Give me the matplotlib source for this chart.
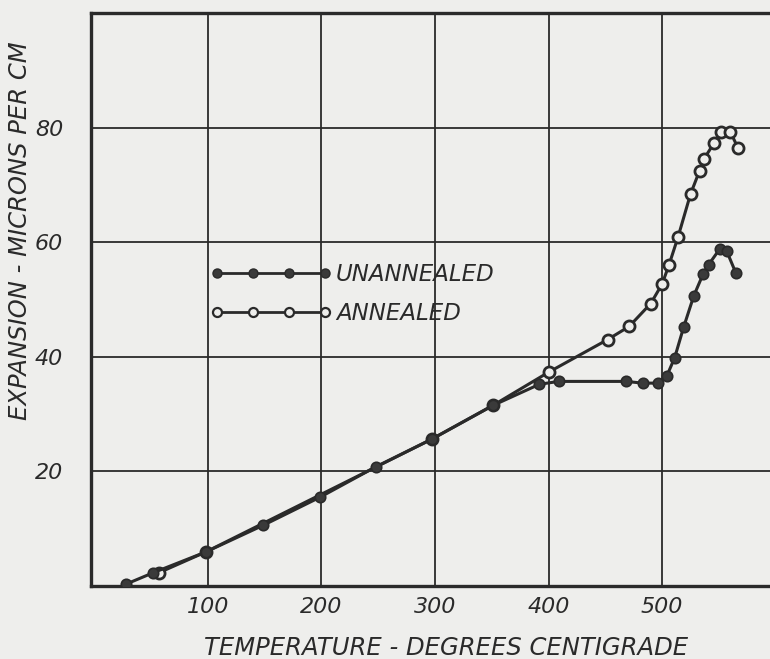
import numpy as np
import matplotlib.pyplot as plt
from matplotlib.lines import Line2D

# -------- DATA --------
unannealed_t = [28, 52, 98, 149, 199, 248, 297, 351, 392, 409, 468, 483, 496,
                504, 511, 519, 528, 536, 541, 551, 557, 565]
unannealed_e = [0.3, 2.3, 5.9, 10.6, 15.5, 20.8, 25.6, 31.5, 35.2, 35.7, 35.7,
                35.4, 35.4, 36.6, 39.8, 45.2, 50.7, 54.4, 56.1, 58.9, 58.4, 54.6]

annealed_t = [57, 98, 297, 351, 400, 452, 471, 490, 500, 506, 514, 525, 533,
              537, 546, 552, 560, 567]
annealed_e = [2.3, 5.9, 25.6, 31.5, 37.3, 43.0, 45.3, 49.3, 52.7, 56.0, 60.9,
              68.4, 72.5, 74.6, 77.4, 79.3, 79.3, 76.4]

x_ticks = [100, 200, 300, 400, 500]
y_ticks = [20, 40, 60, 80]

INK = "#2a2a2a"
PAPER = "#eeeeec"

fig = plt.figure(figsize=(7.7, 6.59), dpi=100, facecolor=PAPER)
ax = fig.add_axes([0.118, 0.111, 0.882, 0.869], facecolor=PAPER)

ax.set_xlim(-3, 595)
ax.set_ylim(0, 100)

# grid
for t in x_ticks:
    ax.axvline(t, color=INK, lw=1.3, zorder=1)
for e in y_ticks:
    ax.axhline(e, color=INK, lw=1.3, zorder=1)

# curves
ax.plot(unannealed_t, unannealed_e, color=INK, lw=2.2, marker="o", ms=7.5,
        mfc="#3a3a3a", mec=INK, mew=1.2, zorder=3)
ax.plot(annealed_t, annealed_e, color=INK, lw=2.2, marker="o", ms=8,
        mfc=PAPER, mec=INK, mew=2.0, zorder=2)

for side in ["left", "bottom", "top"]:
    ax.spines[side].set_linewidth(2.4)
    ax.spines[side].set_color(INK)
ax.spines["right"].set_visible(False)

ax.set_xticks(x_ticks)
ax.set_yticks(y_ticks)
ax.tick_params(length=0, labelsize=16, colors=INK)
ax.tick_params(axis="x", pad=8)
ax.tick_params(axis="y", pad=20)
for lab in ax.get_xticklabels() + ax.get_yticklabels():
    lab.set_fontstyle("italic")

ax.set_xlabel("TEMPERATURE - DEGREES CENTIGRADE", fontsize=17.5,
              fontstyle="italic", color=INK)
ax.xaxis.set_label_coords(0.523, -0.087)
fig.text(0.026, 0.65, "EXPANSION - MICRONS PER CM", rotation=90,
         fontsize=17.5, fontstyle="italic", color=INK, ha="center", va="center")

# legend
handles = [
    Line2D([], [], color=INK, lw=2, marker="o", ms=6.5, mfc="#3a3a3a", mec=INK),
    Line2D([], [], color=INK, lw=2, marker="o", ms=6.5, mfc=PAPER, mec=INK, mew=1.6),
]
ax.legend(handles, ["UNANNEALED", "ANNEALED"], numpoints=4, handlelength=5.3,
          frameon=False, loc="upper left", bbox_to_anchor=(0.145, 0.6),
          prop={"size": 16.5, "style": "italic"}, labelspacing=0.7,
          handletextpad=0.2, labelcolor=INK)

plt.savefig("out.png", dpi=100, facecolor=PAPER)
